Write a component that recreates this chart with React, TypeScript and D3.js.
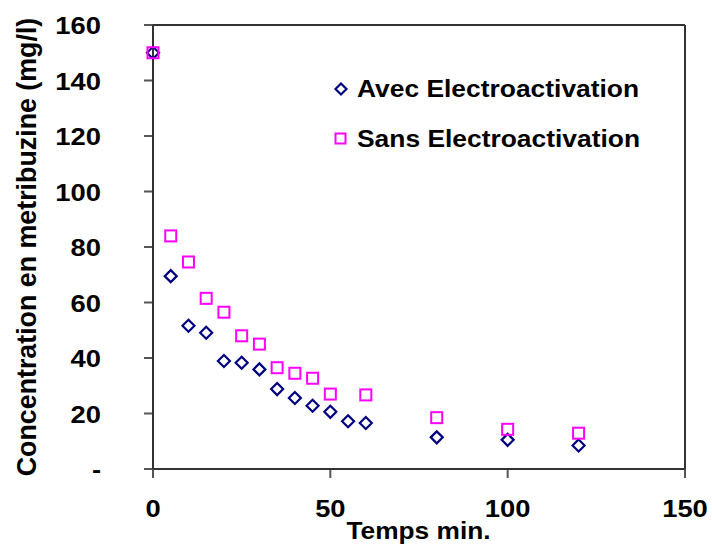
import React from 'react';
import * as d3 from 'd3';

// temps (min) et concentrations
const timesAvec = [0, 5, 10, 15, 20, 25, 30, 35, 40, 45, 50, 55, 60, 80, 100, 120];
const avecValues = [150, 69.5, 51.6, 49.1, 38.9, 38.3, 35.9, 28.8, 25.6, 22.8, 20.6, 17.2, 16.6, 11.4, 10.5, 8.5];

const timesSans = [0, 5, 10, 15, 20, 25, 30, 35, 40, 45, 50, 60, 80, 100, 120];
const sansValues = [150, 84, 74.6, 61.5, 56.5, 48, 45, 36.5, 34.5, 32.7, 27, 26.7, 18.5, 14.3, 12.9];

const xTicks = [0, 50, 100, 150];
const yTicks = [0, 20, 40, 60, 80, 100, 120, 140, 160];

const seriesNames = ['Avec Electroactivation', 'Sans Electroactivation'];

const W = 712;
const H = 547;
const margin = { top: 25, right: 27, bottom: 78, left: 153 };
const font = 'Arial, "Liberation Sans", sans-serif';

// texte gras un peu élargi, comme dans l'original
const Label = ({ x, y, size = 24, sx = 1.14, anchor = 'start', children }: any) => (
  <text transform={`translate(${x},${y}) scale(${sx},1)`} textAnchor={anchor}
    fontFamily={font} fontWeight="bold" fontSize={size} fill="#000">
    {children}
  </text>
);

const App = () => {
  const innerW = W - margin.left - margin.right;
  const innerH = H - margin.top - margin.bottom;

  const x = d3.scaleLinear().domain([0, 150]).range([0, innerW]);
  const y = d3.scaleLinear().domain([0, 160]).range([innerH, 0]);

  const avec = timesAvec.map((t, i) => ({ t, v: avecValues[i] }));
  const sans = timesSans.map((t, i) => ({ t, v: sansValues[i] }));

  const diamond = (cx: number, cy: number, r = 6) =>
    `M${cx},${cy - r}L${cx + r},${cy}L${cx},${cy + r}L${cx - r},${cy}Z`;

  return (
    <svg width={W} height={H} style={{ position: 'absolute', left: 0, top: 0 }}>
      <rect width={W} height={H} fill="white" />
      <g transform={`translate(${margin.left},${margin.top})`}>
        {/* cadre */}
        <line x1={0} x2={innerW} y1={0} y2={0} stroke="#333" strokeWidth={2} />
        <line x1={innerW} x2={innerW} y1={0} y2={innerH} stroke="#333" strokeWidth={2} />

        {/* axe y */}
        {yTicks.map(t => (
          <g key={t}>
            <line x1={-9} x2={0} y1={y(t)} y2={y(t)} stroke="#555" strokeWidth={2} />
            <Label x={-52} y={y(t) + 9} anchor="end">{t === 0 ? '-' : t}</Label>
          </g>
        ))}
        {/* axe x */}
        {xTicks.map(t => (
          <g key={t}>
            <line x1={x(t)} x2={x(t)} y1={innerH} y2={innerH + 9} stroke="#555" strokeWidth={2} />
            <Label x={x(t)} y={innerH + 48} anchor="middle">{t}</Label>
          </g>
        ))}
        <line x1={0} x2={innerW} y1={innerH} y2={innerH} stroke="#333" strokeWidth={2} />
        <line x1={0} x2={0} y1={0} y2={innerH} stroke="#333" strokeWidth={2} />

        {/* séries */}
        {avec.map(d => (
          <path key={`a${d.t}`} d={diamond(x(d.t), y(d.v))} fill="none" stroke="#000080" strokeWidth={2.2} />
        ))}
        {sans.map(d => (
          <rect key={`s${d.t}`} x={x(d.t) - 5.5} y={y(d.v) - 5.5} width={11} height={11}
            fill="none" stroke="#FF00FF" strokeWidth={2} />
        ))}

        {/* légende */}
        <path d={diamond(341 - margin.left, 89 - margin.top, 5.5)} fill="none" stroke="#000080" strokeWidth={2.2} />
        <Label x={357 - margin.left} y={96.5 - margin.top} sx={1.1}>{seriesNames[0]}</Label>
        <rect x={340.5 - 5 - margin.left} y={138.5 - 5 - margin.top} width={10} height={10}
          fill="none" stroke="#FF00FF" strokeWidth={2} />
        <Label x={357 - margin.left} y={146.5 - margin.top} sx={1.1}>{seriesNames[1]}</Label>
      </g>

      {/* titres */}
      <Label x={418.5} y={539} size={23.5} sx={1.12} anchor="middle">Temps min.</Label>
      <text transform="translate(36,247) rotate(-90)" textAnchor="middle" fontFamily={font}
        fontWeight="bold" fontSize={26.8}>
        Concentration en metribuzine (mg/l)
      </text>
    </svg>
  );
};

export default App;
